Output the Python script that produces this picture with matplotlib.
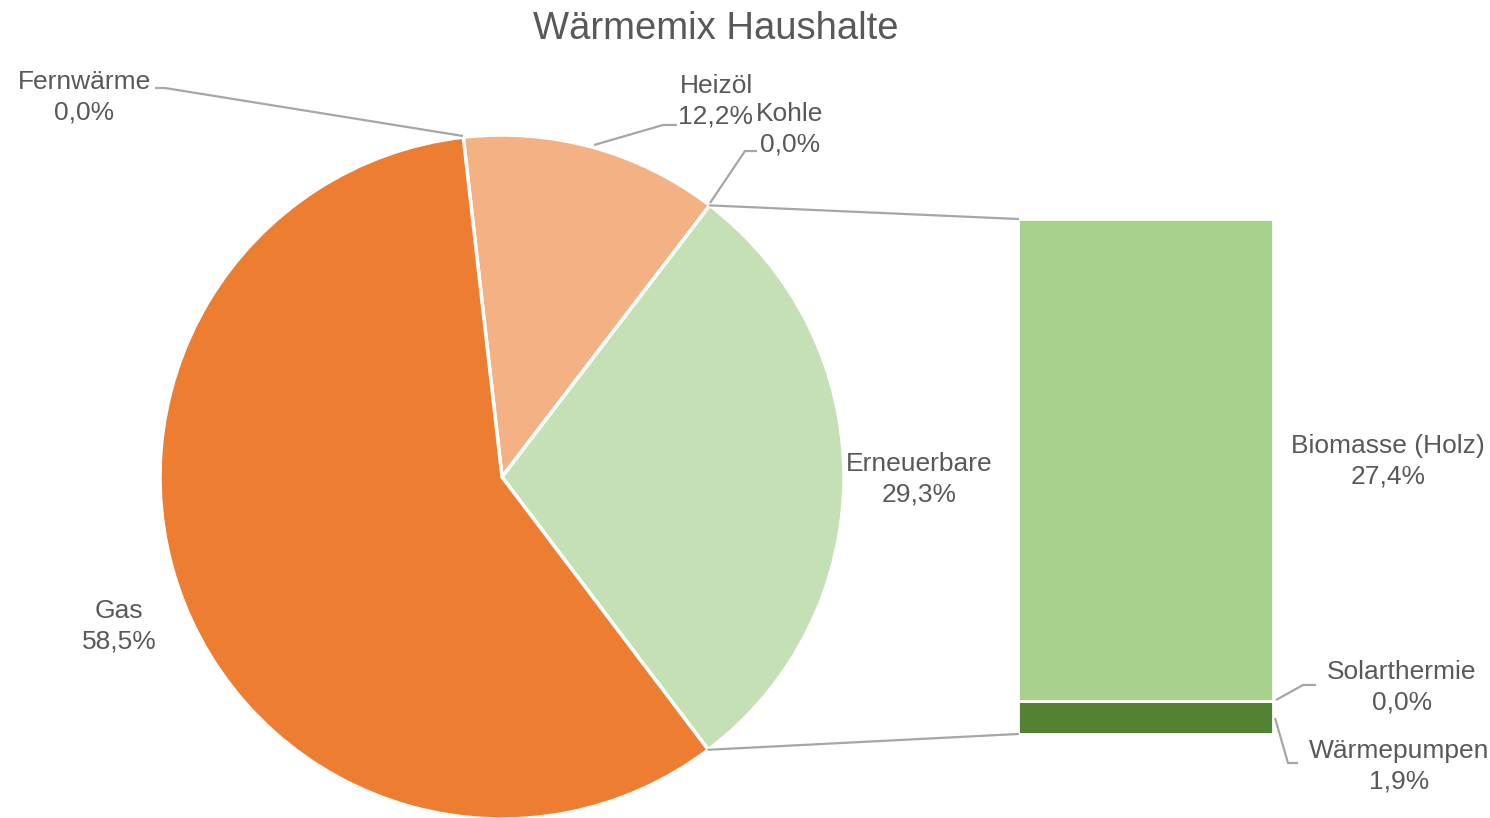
import matplotlib
matplotlib.use('Agg')
import numpy as np
import matplotlib.pyplot as plt
from matplotlib.patches import ConnectionPatch

plt.rcParams['font.family'] = ['Liberation Sans', 'DejaVu Sans']

# Daten Hauptkreis (im Uhrzeigersinn ab Fernwärme)
pie_labels = ['Fernwärme', 'Heizöl', 'Kohle', 'Erneuerbare', 'Gas']
pie_values = [0.0, 12.2, 0.0, 29.3, 58.5]
pie_colors = ['#A5A5A5', '#F4B183', '#7F7F7F', '#C5E0B4', '#ED7D31']

# Aufteilung Erneuerbare (von unten nach oben)
bar_labels = ['Wärmepumpen', 'Solarthermie', 'Biomasse (Holz)']
bar_values = [1.9, 0.0, 27.4]
bar_colors = ['#548235', '#70AD47', '#A9D18E']

txt = '#595959'
line_c = '#A6A6A6'
W, H = 1490, 818


def fmt(v):
    return f'{v:.1f}%'.replace('.', ',')


fig = plt.figure(figsize=(W / 100, H / 100), dpi=100)
ax = fig.add_axes([0, 0, 1, 1])

cx, cy, r = 502, H - 477, 342
wedges, _ = ax.pie(pie_values, colors=pie_colors, startangle=96.5, counterclock=False,
                   center=(cx, cy), radius=r, frame=True,
                   wedgeprops=dict(edgecolor='white', linewidth=2.5))
ax.set_xlim(0, W)
ax.set_ylim(0, H)
ax.set_aspect('equal')
ax.set_axis_off()

# Balken rechts
bx = fig.add_axes([1018 / W, (H - 734) / H, 255 / W, 515 / H])
bottom = 0
for v, c in zip(bar_values, bar_colors):
    bx.bar(0, v, bottom=bottom, width=1, color=c, edgecolor='white', linewidth=2)
    bottom += v
bx.set_xlim(-0.5, 0.5)
bx.set_ylim(0, sum(bar_values))
bx.set_axis_off()

# Verbindungslinien
ern = wedges[3]
for th, yb in [(ern.theta1, 0), (ern.theta2, sum(bar_values))]:
    p = (cx + r * np.cos(np.radians(th)), cy + r * np.sin(np.radians(th)))
    con = ConnectionPatch(xyA=p, coordsA=ax.transData, xyB=(-0.5, yb), coordsB=bx.transData,
                          color=line_c, lw=1.6)
    fig.add_artist(con)


def px(x, y):
    return x, H - y


fs = 19
ax.text(*px(716, 29), 'Wärmemix Haushalte', ha='center', va='center', fontsize=27.5, color=txt)

def lab(x, y, name, v, ha='center'):
    ax.text(*px(x, y), f'{name}\n{fmt(v)}', ha=ha, va='center', fontsize=fs, color=txt,
            linespacing=1.35)

lab(84, 97, pie_labels[0], pie_values[0])
lab(716, 101, pie_labels[1], pie_values[1])
lab(790, 129, pie_labels[2], pie_values[2])
lab(919, 479, pie_labels[3], pie_values[3])
lab(119, 626, pie_labels[4], pie_values[4])
lab(1388, 461, bar_labels[2], bar_values[2])
lab(1402, 687, bar_labels[1], bar_values[1])
lab(1399, 766, bar_labels[0], bar_values[0])

# Führungslinien
leaders = [
    [(463, 136), (165, 88), (155, 88)],
    [(594, 145), (663, 125), (677, 125)],
    [(710, 203), (745, 151), (757, 151)],
    [(1276, 700), (1303, 685), (1316, 685)],
    [(1275, 718), (1288, 763), (1298, 763)],
]
for pts in leaders:
    xs = [p[0] for p in pts]
    ys = [H - p[1] for p in pts]
    ax.plot(xs, ys, color=line_c, lw=1.6, solid_capstyle='butt')

fig.savefig('out.png', dpi=100, facecolor='white')
